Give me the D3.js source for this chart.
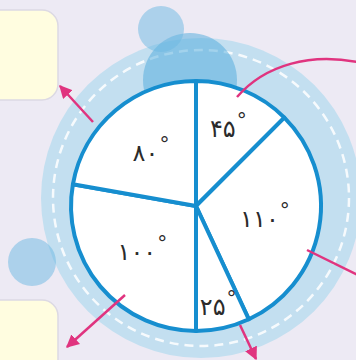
<!DOCTYPE html>
<html>
<head>
<meta charset="utf-8">
<script src="https://cdn.jsdelivr.net/npm/d3@7"></script>
<style>
  html, body { margin: 0; padding: 0; background: #edeaf4; }
  svg { display: block; }
</style>
</head>
<body>
<svg class="chart"></svg>
<script>
// slice angles (degrees), clockwise from the top
var angles = [45, 110, 25, 100, 80];
var angleLabels = ["۴۵", "۱۱۰", "۲۵", "۱۰۰", "۸۰"];

var w = 356, h = 360;
var cx = 196, cy = 206, r = 125;

var svg = d3.select(".chart").attr("width", w).attr("height", h);

svg.append("rect").attr("width", w).attr("height", h).attr("fill", "#edeaf4");

// empty answer boxes on the left
[[10, 90], [300, 80]].forEach(function (b) {
  svg.append("rect")
    .attr("x", -16).attr("y", b[0]).attr("width", 74).attr("height", b[1])
    .attr("rx", 16)
    .attr("fill", "#fffde0").attr("stroke", "#dcd9e3").attr("stroke-width", 1.5);
});

// decorative ring behind the pie
var ring = svg.append("g").attr("transform", "translate(201,198)");
ring.append("circle").attr("r", 160).attr("fill", "#c3dff0");

svg.append("circle").attr("cx", 190).attr("cy", 80).attr("r", 47)
  .attr("fill", "#4eaadc").attr("fill-opacity", 0.5);
svg.append("circle").attr("cx", 161).attr("cy", 29).attr("r", 23)
  .attr("fill", "#6bb8e2").attr("fill-opacity", 0.5);
svg.append("circle").attr("cx", 32).attr("cy", 262).attr("r", 24)
  .attr("fill", "#6bb8e2").attr("fill-opacity", 0.5);

ring.append("circle").attr("r", 148).attr("fill", "none")
  .attr("stroke", "#ffffff").attr("stroke-width", 2.5)
  .attr("stroke-dasharray", "9 6").attr("stroke-opacity", 0.85);

// pie
var pie = d3.pie().sort(null).value(d => d)
  .startAngle(0).endAngle(2 * Math.PI);
var arcs = pie(angles);
var arc = d3.arc().innerRadius(0).outerRadius(r);

var g = svg.append("g").attr("transform", `translate(${cx},${cy})`);

g.selectAll(".slice")
  .data(arcs)
  .join("path")
  .attr("class", "slice")
  .attr("d", arc)
  .attr("fill", "#ffffff")
  .attr("stroke", "#168ecf")
  .attr("stroke-width", 4)
  .attr("stroke-linejoin", "round");

// labels, narrow slices get pushed further out
g.selectAll(".lbl")
  .data(arcs)
  .join("text")
  .attr("class", "lbl")
  .attr("transform", function (d) {
    var a = (d.startAngle + d.endAngle) / 2;
    var lr = Math.max(70, 125 - 0.9 * d.value);
    return `translate(${lr * Math.sin(a)},${-lr * Math.cos(a) + 9})`;
  })
  .attr("text-anchor", "middle")
  .attr("direction", "ltr")
  .style("font-family", "'DejaVu Sans', sans-serif")
  .style("font-size", "24px")
  .attr("fill", "#2b2b2b")
  .each(function (d, i) {
    var t = d3.select(this);
    t.append("tspan").text(angleLabels[i]);
    t.append("tspan").attr("dy", -10).attr("dx", 1).style("font-size", "20px").text("°");
  });

// pink arrows
var pink = "#e0347f";
svg.append("defs").append("marker")
  .attr("id", "head")
  .attr("viewBox", "0 0 10 10")
  .attr("refX", 9).attr("refY", 5)
  .attr("markerUnits", "userSpaceOnUse")
  .attr("markerWidth", 13).attr("markerHeight", 13)
  .attr("orient", "auto")
  .append("path").attr("d", "M0,0 L10,5 L0,10 Z").attr("fill", pink);

var arrows = [
  { d: "M93,122 L60,86", head: true },
  { d: "M125,295 L67,347", head: true },
  { d: "M240,325 L256,359", head: true },
  { d: "M307,250 L362,277", head: false },
  { d: "M237,97 C265,65 310,52 362,63", head: false }
];
svg.selectAll(".arrow")
  .data(arrows)
  .join("path")
  .attr("class", "arrow")
  .attr("d", d => d.d)
  .attr("fill", "none")
  .attr("stroke", pink)
  .attr("stroke-width", 2.5)
  .attr("marker-end", d => d.head ? "url(#head)" : null);
</script>
</body>
</html>
